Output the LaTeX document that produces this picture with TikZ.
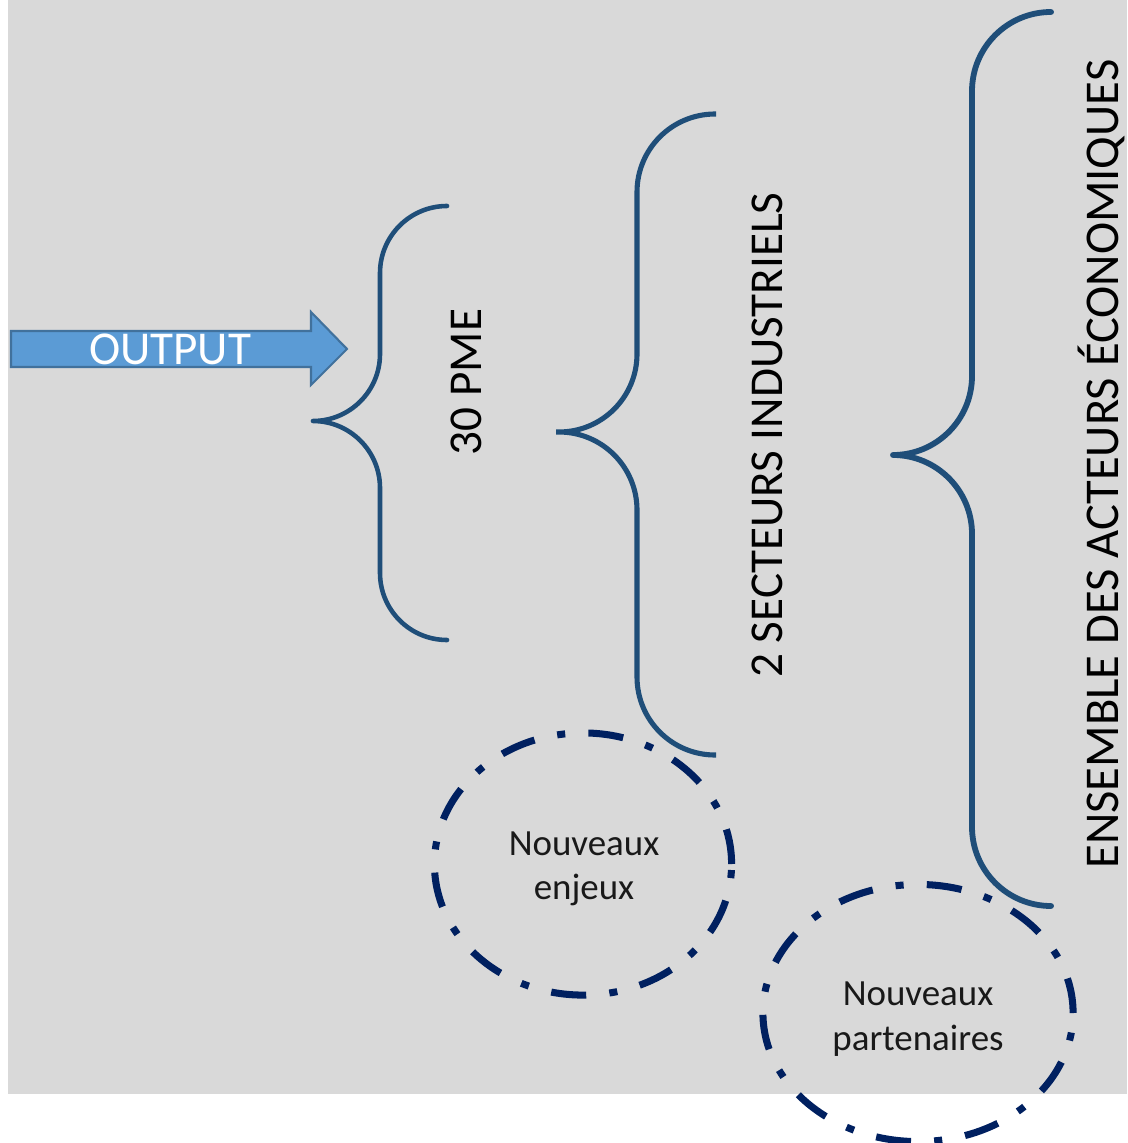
\documentclass[tikz,border=0pt]{standalone}
\usepackage{fontspec}
\setmainfont{Carlito}

\definecolor{fond}{HTML}{D9D9D9}
\definecolor{accolade}{HTML}{1F4E79}
\definecolor{cercle}{HTML}{002060}
\definecolor{flechefond}{HTML}{5B9BD5}
\definecolor{flechebord}{HTML}{41719C}

\begin{document}
\begin{tikzpicture}[x=0.01cm, y=-0.01cm,
  grand/.style={font=\fontsize{13.4}{16}\selectfont, inner sep=0pt},
  vertical/.style={grand, rotate=90, text height=0.64em, text depth=0pt},
  brace/.style={draw=accolade, line cap=butt, line join=round},
  nouveau/.style={draw=cercle, line width=2pt,
    dash pattern=on 10pt off 6.6pt on 2.3pt off 6.6pt},
  petit/.style={font=\fontsize{10.5}{12.6}\selectfont, align=center,
    text=black!90, inner sep=0pt}]
  \useasboundingbox (0,0) rectangle (1127,1143);
  \fill[fond] (8,0) rectangle (1127,1094);

  % fleche
  \draw[fill=flechefond, draw=flechebord, line width=0.6pt]
    (11,331) -- (311,331) -- (311,312) -- (347,349) -- (311,385)
    -- (311,367) -- (11,367) -- cycle;
  \node[grand, text=white] (output) at (170,349) {OUTPUT};

  % accolades
  \draw[brace, line width=1.3pt, rounded corners=6.7mm]
    (447,206) -- (380,206) -- (380,421) -- (313,421)
    (313,421) -- (380,421) -- (380,640) -- (447,640);
  \draw[brace, line width=1.45pt, rounded corners=7.8mm]
    (716,114) -- (637,114) -- (637,432) -- (556,432)
    (556,432) -- (637,432) -- (637,755) -- (716,755);
  \draw[brace, line width=1.65pt, rounded corners=7.9mm]
    (1051,12) -- (972,12) -- (972,455) -- (893,455)
    (893,455) -- (972,455) -- (972,906) -- (1051,906);

  \node[vertical] (pme) at (470,382) {30 PME};
  \node[vertical] (secteurs) at (771,435) {2 SECTEURS INDUSTRIELS};
  \node[vertical, font=\fontsize{13.8}{16}\selectfont] (acteurs) at (1107,464)
    {ENSEMBLE DES ACTEURS ÉCONOMIQUES};

  % cercles
  \node[petit] (enjeux) at (584,869) {Nouveaux\\enjeux};
  \draw[nouveau] (583,864) ellipse [x radius=1.485cm, y radius=1.31cm];
  \node[petit] (partenaires) at (918,1019) {Nouveaux\\partenaires};
  \draw[nouveau] (918,1013) ellipse [x radius=1.55cm, y radius=1.285cm];
\end{tikzpicture}
\end{document}
